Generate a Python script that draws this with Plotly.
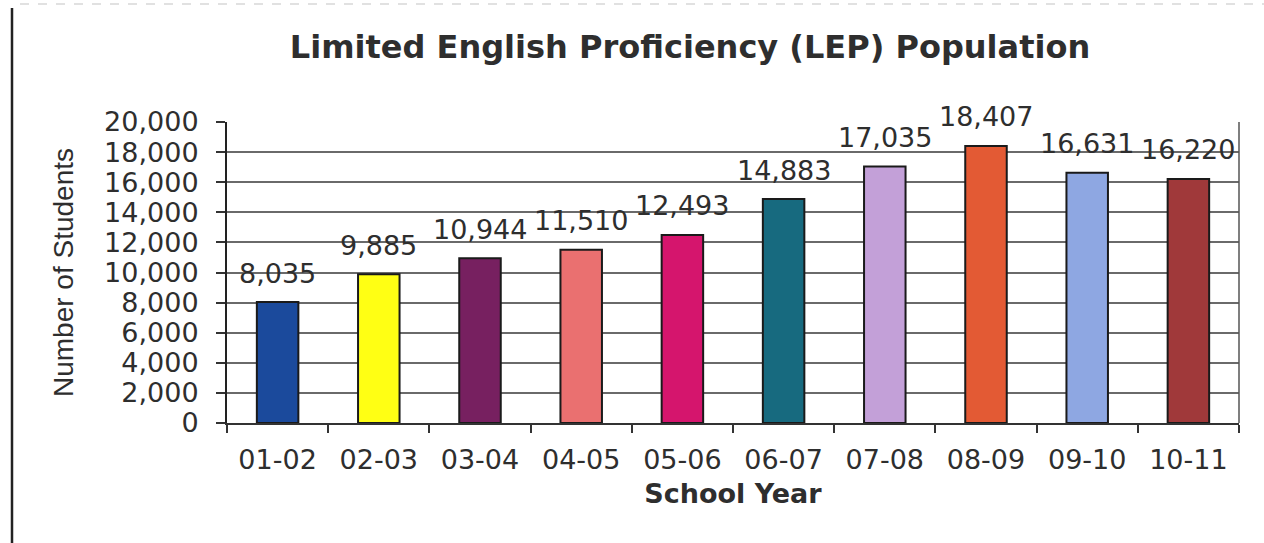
import plotly.graph_objects as go

# School years and LEP student counts
years = ["01-02", "02-03", "03-04", "04-05", "05-06",
         "06-07", "07-08", "08-09", "09-10", "10-11"]
students = [8035, 9885, 10944, 11510, 12493, 14883, 17035, 18407, 16631, 16220]
bar_colors = ["#1b4a9c", "#ffff14", "#772060", "#ea7070", "#d5156d",
              "#176a7f", "#c3a0d8", "#e35a34", "#8ea7e2", "#a0393a"]
y_ticks = list(range(0, 20001, 2000))

FONT = "DejaVu Sans"
NARROW = "Liberation Sans"
TXT = "#2e2e2e"

W, H = 1264, 543
M_L, M_R, M_T, M_B = 227, 25, 122, 120

fig = go.Figure()
fig.add_trace(go.Bar(
    x=years,
    y=students,
    marker=dict(color=bar_colors, line=dict(color="#1a1a1a", width=2)),
    width=0.41,
    hoverinfo="x+y",
))

# value labels above each bar
for yr, v in zip(years, students):
    fig.add_annotation(
        x=yr, y=v, text=f"{v:,}", showarrow=False,
        yanchor="middle", yshift=29,
        font=dict(family=FONT, size=27, color=TXT),
    )

# outer frame line on the left and faint rule along the top
px = lambda x: (x - M_L) / (W - M_L - M_R)
py = lambda y: (H - M_B - y) / (H - M_T - M_B)
fig.add_shape(type="line", xref="paper", yref="paper",
              x0=px(12), x1=px(12), y0=py(8), y1=py(H),
              line=dict(color="#222222", width=2.5))
fig.add_shape(type="line", xref="paper", yref="paper",
              x0=px(20), x1=px(W), y0=py(4), y1=py(4),
              line=dict(color="#d8d8d8", width=1.5, dash="dash"))

fig.update_layout(
    width=W, height=H,
    margin=dict(l=M_L, r=M_R, t=M_T, b=M_B, pad=0),
    paper_bgcolor="white",
    plot_bgcolor="white",
    showlegend=False,
    bargap=0.59,
    title=dict(
        text="<b>Limited English Proficiency (LEP) Population</b>",
        x=px(690), xref="paper", xanchor="center",
        y=1 - 47 / H, yanchor="middle",
        font=dict(family=FONT, size=32, color=TXT),
    ),
    xaxis=dict(
        type="category",
        tickson="boundaries",
        ticks="outside", ticklen=8, tickwidth=2, tickcolor="#333333",
        showline=True, linecolor="#333333", linewidth=2,
        mirror=False,
        showgrid=False,
        tickfont=dict(family=FONT, size=27, color=TXT),
        ticklabelstandoff=12,
        title=dict(text="<b>School Year</b>", standoff=10,
                   font=dict(family=FONT, size=27, color=TXT)),
    ),
    yaxis=dict(
        range=[0, 20000],
        tickvals=y_ticks,
        ticktext=[f"{t:,}" for t in y_ticks],
        ticks="outside", ticklen=9, tickwidth=2, tickcolor="#333333",
        showline=True, linecolor="#222222", linewidth=2,
        showgrid=True, gridcolor="#6a6a6a", gridwidth=2,
        zeroline=False,
        tickfont=dict(family=FONT, size=27, color=TXT),
        ticklabelstandoff=12,
        title=dict(text="Number of Students", standoff=22,
                   font=dict(family=NARROW, size=28, color=TXT)),
    ),
)

# right edge of the plot area
fig.add_shape(type="line", xref="paper", yref="paper",
              x0=1, x1=1, y0=0, y1=1,
              line=dict(color="#555555", width=1.5))

fig.write_html("out.html")
